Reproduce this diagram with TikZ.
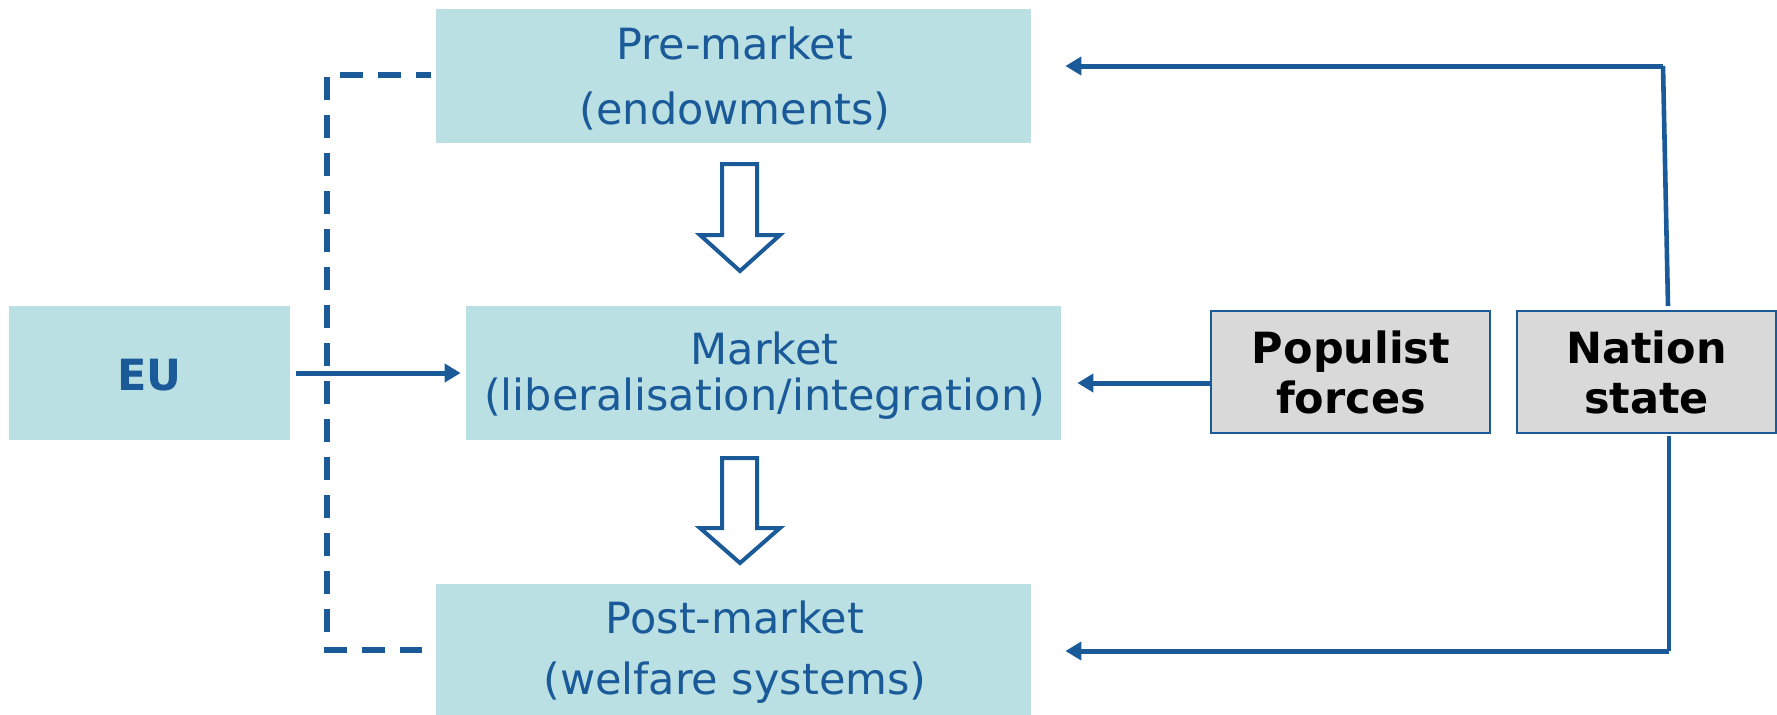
\documentclass[tikz,border=0pt]{standalone}
\usepackage{fontspec}
\setmainfont{DejaVu Sans}
\usetikzlibrary{arrows.meta,calc}
\definecolor{boxfill}{HTML}{BBE0E3}
\definecolor{dblue}{HTML}{1A5A98}
\definecolor{gfill}{HTML}{D9D9D9}
\begin{document}
\begin{tikzpicture}[x=0.5pt,y=-0.5pt,
  tealbox/.style={fill=boxfill,draw=none,inner sep=0pt,minimum width=297.5pt,minimum height=67pt},
  graybox/.style={fill=gfill,draw=dblue,line width=1pt,inner sep=0pt,minimum height=61pt},
  btext/.style={inner sep=0pt,anchor=base,text=dblue,font=\fontsize{21.5pt}{25pt}\selectfont},
  ktext/.style={inner sep=0pt,anchor=base,text=black,font=\fontsize{21.5pt}{25pt}\selectfont\bfseries},
  conn/.style={draw=dblue,line width=2.5pt,-{Triangle[length=8pt,width=9pt]}},
  vline/.style={draw=dblue,line width=2.3pt},
  dashline/.style={draw=dblue,line width=2.7pt,dash pattern=on 11.5pt off 7.5pt,dash phase=4pt},
  hollow/.style={draw=dblue,line width=2pt,fill=white,line join=miter}]
\useasboundingbox (0,0) rectangle (1777,714);
% boxes
\node[tealbox] (pre) at (733.5,76) {};
\node[tealbox] (market) at (763.5,373) {};
\node[tealbox,minimum height=66pt] (post) at (733.5,650) {};
\node[tealbox,minimum width=140.5pt] (eu) at (149.5,373) {};
\node[graybox,minimum width=139.5pt] (pop) at (1350.5,372) {};
\node[graybox,minimum width=129.5pt] (nation) at (1646.5,372) {};
% texts
\node[btext] (preA) at (735,59) {Pre-market};
\node[btext] (preB) at (735,124) {(endowments)};
\node[btext] (marketA) at (764.5,364) {Market};
\node[btext] (marketB) at (764.5,410) {(liberalisation/integration)};
\node[btext] (postA) at (735,633) {Post-market};
\node[btext] (postB) at (735,694) {(welfare systems)};
\node[btext,font=\fontsize{21.5pt}{25pt}\selectfont\bfseries] (euT) at (149.5,390) {EU};
\node[ktext] (popA) at (1351,363) {Populist};
\node[ktext] (popB) at (1351,413) {forces};
\node[ktext] (natA) at (1646.5,363) {Nation};
\node[ktext] (natB) at (1646.5,413) {state};
% hollow arrows
\draw[hollow] (722,164) -- (757,164) -- (757,235) -- (780,235) -- (740,271) -- (700,235) -- (722,235) -- cycle;
\draw[hollow] (722,458) -- (757,458) -- (757,528) -- (780,528) -- (740,563) -- (700,528) -- (722,528) -- cycle;
% dashed EU links
\coordinate (d1) at (327,75);
\coordinate (d2) at (327,650);
\draw[dashline] ($(pre.west)+(-5,-1)$) -- (d1) -- (d2) -- ($(post.west)+(-14,0)$);
% EU arrow
\draw[conn,shorten >=2.5pt] ($(eu.east)+(6,0)$) -- (market.west);
% populist arrow
\draw[conn,shorten >=8pt] ($(pop.west)+(0,11)$) -- (market.east |- {$(pop.west)+(0,11)$});
% nation state arrows
\coordinate (nt) at (1663,66);
\coordinate (nb) at (1669,651);
\draw[vline] ($(nation.north)+(21.5,-4)$) -- (nt);
\draw[conn,shorten >=17pt] (nt) -- (pre.east |- nt);
\draw[vline] ($(nation.south)+(22.5,2)$) -- (nb);
\draw[conn,shorten >=17pt] (nb) -- (post.east |- nb);
\end{tikzpicture}
\end{document}
